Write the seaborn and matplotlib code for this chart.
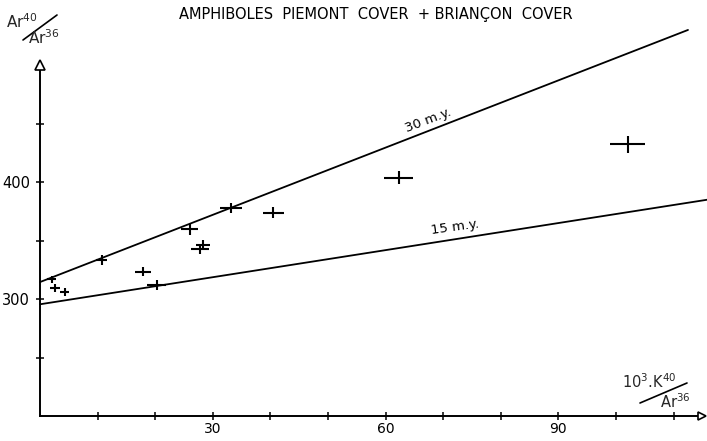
import matplotlib
matplotlib.use("Agg")
import matplotlib.pyplot as plt
import seaborn as sns
import pandas as pd
from matplotlib.lines import Line2D

# ---- data ----
x_vals = [2.0, 2.6, 4.3, 10.7, 17.9, 20.3, 26.0, 27.8, 28.3, 33.2, 40.5, 62.3, 102.0]
y_vals = [316.8, 309.1, 305.7, 333.3, 323.3, 312.0, 359.6, 342.7, 346.2, 377.8, 373.8, 403.8, 432.1]
x_err = [0.8, 0.9, 0.8, 1.0, 1.35, 1.65, 1.5, 1.6, 1.2, 1.9, 1.8, 2.5, 3.1]
y_err = [3.2, 3.5, 3.5, 4.0, 4.0, 4.5, 4.5, 4.0, 4.0, 4.5, 4.5, 5.7, 7.0]

line30_x = [0, 112.5]
line30_y = [314.5, 530]
line15_x = [0, 116]
line15_y = [295.5, 385]

x_ticks = [10, 20, 30, 40, 50, 60, 70, 80, 90, 100, 110]
x_ticklabels = ["", "", "30", "", "", "60", "", "", "90", "", ""]
y_ticks = [250, 300, 350, 400, 450]
y_ticklabels = ["", "300", "", "400", ""]

title = "AMPHIBOLES  PIEMONT  COVER  + BRIANÇON  COVER"

sns.set_theme(style="white")
plt.rcParams["font.family"] = ["DejaVu Sans"]

W, H = 707, 441
fig = plt.figure(figsize=(W / 100, H / 100), dpi=100)
ax = fig.add_axes([40 / W, 25 / H, 667 / W, 416 / H])
ax.set_xlim(0, 115.8)
ax.set_ylim(200, 555.6)

lines = pd.concat([
    pd.DataFrame({"x": line30_x, "y": line30_y, "age": "30 m.y."}),
    pd.DataFrame({"x": line15_x, "y": line15_y, "age": "15 m.y."}),
])
sns.lineplot(data=lines, x="x", y="y", units="age", estimator=None,
             color="black", lw=1.3, ax=ax, legend=False, clip_on=False)

ax.errorbar(x_vals, y_vals, xerr=x_err, yerr=y_err, fmt="none",
            ecolor="black", elinewidth=1.5, capsize=0, zorder=5)

# axes styling
for s in ["top", "right"]:
    ax.spines[s].set_visible(False)
for s in ["left", "bottom"]:
    ax.spines[s].set_color("black")
    ax.spines[s].set_linewidth(1.4)
ax.spines["left"].set_bounds(200, 498)
ax.spines["bottom"].set_bounds(0, 114)
ax.plot([0], [500], marker="^", ms=7, mfc="white", mec="black", mew=1.2,
        clip_on=False, zorder=6)
ax.plot([115], [200], marker=">", ms=6, mfc="white", mec="black", mew=1.2,
        clip_on=False, zorder=6)

ax.set_xticks(x_ticks)
ax.set_xticklabels(x_ticklabels, fontsize=10)
ax.set_yticks(y_ticks)
ax.set_yticklabels(y_ticklabels, fontsize=10.5)
ax.tick_params(axis="both", direction="inout", length=6, width=1.1,
               color="black", labelcolor="black", bottom=True, left=True)
ax.tick_params(axis="x", pad=1)
ax.tick_params(axis="y", pad=4)
ax.set_xlabel("")
ax.set_ylabel("")
ax.grid(False)

# line labels
ax.text(67.4, 453, "30 m.y.", rotation=21, ha="center", va="center",
        fontsize=9.5, color="black")
ax.text(72.0, 361, "15 m.y.", rotation=8, ha="center", va="center",
        fontsize=9.5, color="black")

# title
fig.text(376 / W, 1 - 15 / H, title, ha="center", va="center",
         fontsize=10.5, color="black")

# y-axis label (slanted fraction)
fig.text(6 / W, 1 - 22 / H, "Ar$^{40}$", ha="left", va="center", fontsize=11)
fig.text(28 / W, 1 - 38 / H, "Ar$^{36}$", ha="left", va="center", fontsize=11)
fig.add_artist(Line2D([23 / W, 57 / W], [1 - 40 / H, 1 - 15 / H],
                      transform=fig.transFigure, color="black", lw=1.2))

# x-axis label (slanted fraction)
fig.text(622 / W, 1 - 382 / H, "10$^3$.K$^{40}$", ha="left", va="center",
         fontsize=10.5)
fig.text(660 / W, 1 - 402 / H, "Ar$^{36}$", ha="left", va="center",
         fontsize=10.5)
fig.add_artist(Line2D([640 / W, 687 / W], [1 - 403 / H, 1 - 383 / H],
                      transform=fig.transFigure, color="black", lw=1.2))

fig.savefig("out.png", dpi=100, facecolor="white")
